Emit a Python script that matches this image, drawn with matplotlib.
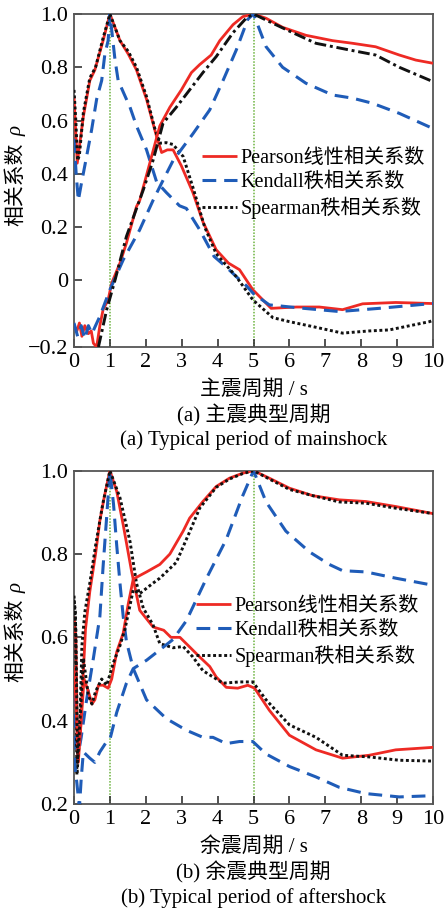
import matplotlib
matplotlib.use('Agg')
import matplotlib.pyplot as plt
from matplotlib.lines import Line2D

plt.rcParams['font.family'] = ['Liberation Serif', 'Noto Sans CJK SC']
plt.rcParams['axes.unicode_minus'] = True

# ---- 主震典型周期 (a) ----
# 峰值在 T=1 s 的一组
a1_pearson_t = [0, 0.09, 0.26, 0.44, 0.58, 0.81, 1.0, 1.28, 1.51, 1.74, 2.02, 2.3, 2.44, 2.6, 2.76, 2.99,
                3.31, 3.59, 3.96, 4.3, 4.61, 4.98, 5.49, 6.2, 6.83, 7.48, 8.04, 8.96, 10]
a1_pearson = [0.69, 0.44, 0.615, 0.75, 0.79, 0.90, 1.0, 0.90, 0.85, 0.79, 0.68, 0.54, 0.48, 0.49, 0.49, 0.43,
              0.33, 0.22, 0.115, 0.065, 0.04, -0.035, -0.105, -0.10, -0.10, -0.11, -0.088, -0.083, -0.087]
a1_kendall_t = [0, 0.06, 0.12, 0.2, 0.35, 0.49, 0.63, 0.77, 0.86, 0.95, 1.0, 1.14, 1.23, 1.46, 1.56, 1.74,
                2.02, 2.3, 2.57, 2.94, 3.13, 3.5, 3.9, 4.24, 4.52, 4.8, 5.0, 5.44, 6.4, 7.39, 8.5, 9.89, 10]
a1_kendall = [0.53, 0.40, 0.30, 0.36, 0.465, 0.565, 0.68, 0.75, 0.85, 0.90, 1.0, 0.83, 0.75, 0.68, 0.65, 0.58,
              0.49, 0.37, 0.33, 0.28, 0.27, 0.19, 0.09, 0.05, 0.014, -0.02, -0.05, -0.092, -0.105, -0.117,
              -0.105, -0.088, -0.087]
a1_spearman_t = [0, 0.05, 0.1, 0.15, 0.26, 0.44, 0.6, 0.81, 1.0, 1.28, 1.51, 1.74, 2.02, 2.25, 2.39, 2.57,
                 2.76, 3.04, 3.31, 3.64, 3.96, 4.52, 4.98, 5.54, 6.0, 6.7, 7.48, 8.2, 8.78, 9.9, 10]
a1_spearman = [0.715, 0.60, 0.45, 0.47, 0.63, 0.76, 0.80, 0.91, 1.0, 0.90, 0.86, 0.80, 0.69, 0.57, 0.515, 0.517,
               0.51, 0.465, 0.35, 0.20, 0.10, 0.014, -0.073, -0.14, -0.155, -0.175, -0.198, -0.19, -0.186,
               -0.155, -0.15]
# 峰值在 T=5 s 的一组
a5_pearson_t = [0, 0.08, 0.15, 0.22, 0.3, 0.4, 0.48, 0.54, 0.63, 0.72, 0.81, 0.95, 1.05, 1.28, 1.46, 1.74,
                1.83, 2.11, 2.39, 2.67, 2.99, 3.27, 3.5, 3.82, 4.06, 4.43, 4.7, 5.0, 5.35, 5.81, 6.46, 7.2,
                7.76, 8.4, 9.06, 9.52, 10]
a5_pearson = [-0.17, -0.19, -0.16, -0.21, -0.17, -0.20, -0.19, -0.236, -0.25, -0.17, -0.11, -0.073, -0.01,
              0.065, 0.14, 0.277, 0.30, 0.44, 0.58, 0.65, 0.715, 0.78, 0.81, 0.846, 0.90, 0.96, 0.99, 1.0,
              0.984, 0.95, 0.92, 0.90, 0.89, 0.877, 0.846, 0.827, 0.815]
a5_kendall_t = [0, 0.1, 0.2, 0.3, 0.4, 0.5, 0.6, 0.72, 1.0, 1.37, 1.83, 2.2, 2.44, 2.76, 3.31, 3.78, 4.15,
                4.52, 4.84, 5.0, 5.35, 5.81, 6.46, 7.2, 7.76, 8.31, 9.06, 10]
a5_kendall = [-0.16, -0.21, -0.17, -0.22, -0.17, -0.20, -0.17, -0.135, -0.035, 0.077, 0.19, 0.30, 0.365,
              0.45, 0.55, 0.64, 0.75, 0.865, 0.98, 1.0, 0.877, 0.80, 0.74, 0.696, 0.684, 0.665, 0.627, 0.57]
a5_spearman_t = [0.68, 0.91, 1.14, 1.46, 1.93, 2.2, 2.48, 2.85, 3.22, 3.59, 3.96, 4.43, 4.8, 5.0, 5.54,
                 6.09, 6.74, 7.67, 8.4, 9.06, 10]
a5_spearman = [-0.25, -0.11, 0.0, 0.165, 0.34, 0.45, 0.59, 0.65, 0.715, 0.78, 0.84, 0.93, 0.985, 1.0, 0.965,
               0.93, 0.89, 0.865, 0.846, 0.80, 0.746]

# ---- 余震典型周期 (b) ----
b1_pearson_t = [0, 0.05, 0.1, 0.17, 0.25, 0.32, 0.44, 0.6, 0.72, 0.85, 1.0, 1.19, 1.37, 1.6, 1.83, 2.2,
                2.5, 2.7, 2.95, 3.22, 3.5, 3.78, 3.96, 4.24, 4.56, 4.84, 5.03, 5.44, 6.0, 6.74, 7.48, 8.22,
                8.96, 10]
b1_pearson = [0.65, 0.60, 0.32, 0.36, 0.50, 0.62, 0.71, 0.80, 0.88, 0.94, 1.0, 0.95, 0.87, 0.76, 0.665,
              0.625, 0.617, 0.60, 0.60, 0.577, 0.553, 0.53, 0.505, 0.48, 0.478, 0.485, 0.478, 0.425, 0.365,
              0.33, 0.31, 0.317, 0.33, 0.336]
b1_kendall_t = [0, 0.06, 0.12, 0.2, 0.35, 0.54, 0.72, 0.81, 0.91, 1.0, 1.1, 1.19, 1.28, 1.37, 1.46, 1.65,
                2.02, 2.57, 3.13, 3.59, 3.87, 4.24, 4.61, 4.98, 5.35, 6.0, 6.74, 7.39, 8.13, 9.06, 10]
b1_kendall = [0.52, 0.30, 0.32, 0.36, 0.45, 0.55, 0.65, 0.77, 0.89, 1.0, 0.92, 0.82, 0.73, 0.65, 0.59, 0.525,
              0.45, 0.405, 0.377, 0.36, 0.36, 0.345, 0.35, 0.35, 0.32, 0.29, 0.265, 0.24, 0.225, 0.217, 0.22]
b1_spearman_t = [0, 0.04, 0.08, 0.15, 0.22, 0.3, 0.44, 0.6, 0.8, 1.0, 1.28, 1.56, 1.74, 1.93, 2.2, 2.39,
                 2.76, 3.04, 3.31, 3.59, 4.15, 4.61, 4.98, 5.35, 6.0, 6.74, 7.48, 8.22, 9.06, 10]
b1_spearman = [0.69, 0.66, 0.27, 0.35, 0.58, 0.66, 0.73, 0.82, 0.92, 1.0, 0.935, 0.83, 0.73, 0.67, 0.63,
               0.585, 0.575, 0.578, 0.553, 0.52, 0.49, 0.493, 0.493, 0.45, 0.39, 0.36, 0.317, 0.313, 0.305,
               0.303]
b5_pearson_t = [0, 0.05, 0.12, 0.2, 0.28, 0.4, 0.5, 0.58, 0.68, 0.81, 0.95, 1.05, 1.19, 1.37, 1.51, 1.65,
                2.02, 2.39, 2.67, 3.04, 3.22, 3.59, 3.96, 4.33, 4.7, 5.0, 5.44, 6.0, 6.65, 7.39, 8.13, 8.96, 10]
b5_pearson = [0.53, 0.45, 0.30, 0.40, 0.50, 0.47, 0.44, 0.45, 0.485, 0.485, 0.478, 0.50, 0.565, 0.61, 0.68,
              0.74, 0.757, 0.775, 0.80, 0.855, 0.886, 0.926, 0.962, 0.982, 0.994, 1.0, 0.982, 0.958, 0.94,
              0.93, 0.926, 0.914, 0.897]
b5_kendall_t = [0, 0.08, 0.15, 0.2, 0.26, 0.44, 0.58, 0.72, 0.91, 1.0, 1.19, 1.46, 1.65, 2.02, 2.39, 2.76,
                3.13, 3.68, 4.24, 4.7, 5.0, 5.35, 5.9, 6.56, 7.11, 7.48, 8.13, 8.96, 10]
b5_kendall = [0.31, 0.25, 0.19, 0.26, 0.325, 0.31, 0.30, 0.325, 0.35, 0.355, 0.42, 0.49, 0.525, 0.545, 0.57,
              0.595, 0.64, 0.74, 0.835, 0.94, 1.0, 0.925, 0.855, 0.805, 0.775, 0.76, 0.757, 0.742, 0.725]
b5_spearman_t = [0, 0.05, 0.1, 0.18, 0.26, 0.4, 0.5, 0.6, 0.77, 0.91, 1.1, 1.28, 1.42, 1.65, 1.83, 2.2,
                 2.39, 2.85, 3.22, 3.5, 3.96, 4.33, 4.7, 5.0, 5.44, 6.0, 6.65, 7.39, 8.13, 8.96, 10]
b5_spearman = [0.70, 0.62, 0.30, 0.42, 0.55, 0.46, 0.44, 0.47, 0.50, 0.485, 0.54, 0.58, 0.62, 0.714, 0.705,
               0.73, 0.742, 0.78, 0.853, 0.91, 0.96, 0.98, 0.993, 1.0, 0.98, 0.955, 0.94, 0.925, 0.922,
               0.91, 0.897]

period_ticks = list(range(0, 11))
typical_periods = [1, 5]
legend_labels = ['Pearson线性相关系数', 'Kendall秩相关系数', 'Spearman秩相关系数']

RED = '#ee2a24'
BLUE = '#1f5cb8'
BLACK = '#111111'
GREEN = '#6cb33e'

red_kw = dict(color=RED, lw=2.0, solid_capstyle='butt')
blue_kw = dict(color=BLUE, lw=2.2, dashes=(4.5, 2.6), dash_capstyle='butt')
dot_kw = dict(color=BLACK, lw=2.1, dashes=(1.0, 0.9), dash_capstyle='butt')
dashdot_kw = dict(color=BLACK, lw=2.1, dashes=(4.0, 1.3, 1.0, 1.3), dash_capstyle='butt')


def style_axes(ax, ylim, yticks, yticklabels, xlabel):
    ax.set_xlim(0, 10)
    ax.set_ylim(*ylim)
    ax.set_xticks(period_ticks)
    ax.set_xticklabels([str(t) for t in period_ticks])
    ax.set_yticks(yticks)
    ax.set_yticklabels(yticklabels)
    ax.tick_params(direction='in', length=6, width=1.2, labelsize=16, pad=4,
                   top=False, right=False, color='#333333')
    for sp in ax.spines.values():
        sp.set_color('#555555')
        sp.set_linewidth(1.3)
    ax.set_xlabel(xlabel, fontsize=15, labelpad=6)
    # 纵轴标题: 中文 + 斜体 rho, 分两段写
    ax.text(-0.16, 0.49, '相关系数', rotation=90, ha='center', va='center',
            fontsize=15, transform=ax.transAxes)
    ax.text(-0.16, 0.648, 'ρ', rotation=90, ha='center', va='center', style='italic',
            fontsize=15, transform=ax.transAxes)
    for t in typical_periods:
        ax.axvline(t, color=GREEN, lw=1.1, ls=(0, (1, 1)), zorder=1)


def add_legend(ax, anchor):
    handles = [Line2D([], [], **red_kw), Line2D([], [], **blue_kw), Line2D([], [], **dot_kw)]
    ax.legend(handles, legend_labels, loc='upper left', bbox_to_anchor=anchor, frameon=False,
              fontsize=14.5, handlelength=1.75, handletextpad=0.15, labelspacing=0.22,
              borderpad=0, borderaxespad=0)


fig = plt.figure(figsize=(4.44, 9.09), dpi=100)

# (a) 主震
ax1 = fig.add_axes([0.1667, 0.6183, 0.8086, 0.3663])
ax1.plot(a1_pearson_t, a1_pearson, **red_kw, zorder=3)
ax1.plot(a1_kendall_t, a1_kendall, **blue_kw, zorder=3)
ax1.plot(a1_spearman_t, a1_spearman, **dot_kw, zorder=3)
ax1.plot(a5_pearson_t, a5_pearson, **red_kw, zorder=3)
ax1.plot(a5_kendall_t, a5_kendall, **blue_kw, zorder=3)
ax1.plot(a5_spearman_t, a5_spearman, **dashdot_kw, zorder=3)
style_axes(ax1, (-0.25, 1.0), [-0.25, 0, 0.2, 0.4, 0.6, 0.8, 1.0],
           ['\u22120.2', '0', '0.2', '0.4', '0.6', '0.8', '1.0'], '主震周期 / s')
add_legend(ax1, (0.357, 0.596))

# (b) 余震
ax2 = fig.add_axes([0.1667, 0.1155, 0.8086, 0.3667])
ax2.plot(b1_pearson_t, b1_pearson, **red_kw, zorder=3)
ax2.plot(b1_kendall_t, b1_kendall, **blue_kw, zorder=3)
ax2.plot(b1_spearman_t, b1_spearman, **dot_kw, zorder=3)
ax2.plot(b5_pearson_t, b5_pearson, **red_kw, zorder=3)
ax2.plot(b5_kendall_t, b5_kendall, **blue_kw, zorder=3)
ax2.plot(b5_spearman_t, b5_spearman, **dot_kw, zorder=3)
style_axes(ax2, (0.2, 1.0), [0.2, 0.4, 0.6, 0.8, 1.0],
           ['0.2', '0.4', '0.6', '0.8', '1.0'], '余震周期 / s')
add_legend(ax2, (0.34, 0.622))

cx = 0.1667 + 0.8086 / 2
fig.text(cx, 0.5435, '(a) 主震典型周期', ha='center', va='center', fontsize=15)
fig.text(cx, 0.516, '(a) Typical period of mainshock', ha='center', va='center', fontsize=15)
fig.text(cx, 0.0407, '(b) 余震典型周期', ha='center', va='center', fontsize=15)
fig.text(cx, 0.0121, '(b) Typical period of aftershock', ha='center', va='center', fontsize=15)

fig.savefig('out.png', dpi=100)
